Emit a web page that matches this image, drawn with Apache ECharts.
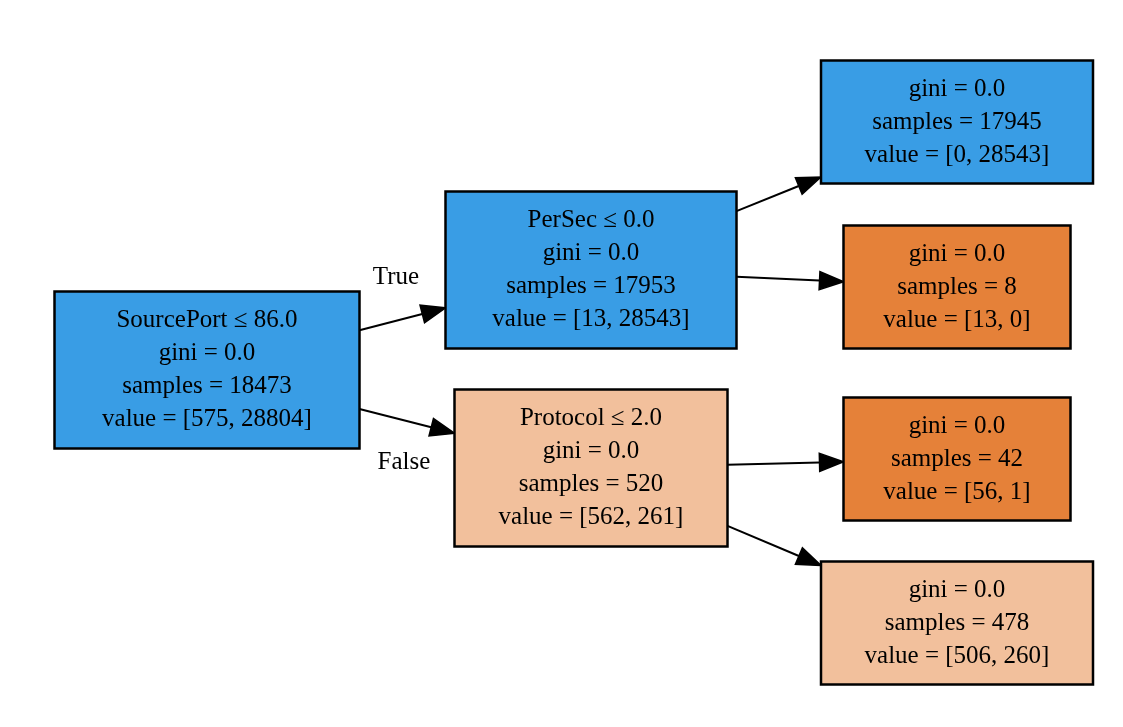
<!DOCTYPE html>
<html>
<head>
<meta charset="utf-8">
<script src="https://cdn.jsdelivr.net/npm/echarts@6/dist/echarts.min.js"></script>
<style>html,body{margin:0;padding:0;background:#fff}#chart{width:1123px;height:727px}</style>
</head>
<body>
<div id="chart"></div>
<script>
// tree content
var nodeText = [
    'SourcePort ≤ 86.0\ngini = 0.0\nsamples = 18473\nvalue = [575, 28804]',
    'PerSec ≤ 0.0\ngini = 0.0\nsamples = 17953\nvalue = [13, 28543]',
    'Protocol ≤ 2.0\ngini = 0.0\nsamples = 520\nvalue = [562, 261]',
    'gini = 0.0\nsamples = 17945\nvalue = [0, 28543]',
    'gini = 0.0\nsamples = 8\nvalue = [13, 0]',
    'gini = 0.0\nsamples = 42\nvalue = [56, 1]',
    'gini = 0.0\nsamples = 478\nvalue = [506, 260]'
];
var nodeClass = ['blue', 'blue', 'light', 'blue', 'orange', 'orange', 'light'];
var edgeFrom = [0, 0, 1, 1, 2, 2];
var edgeTo = [1, 2, 3, 4, 5, 6];
var edgeText = ['True', 'False', '', '', '', ''];

// layout (pixel units of the drawing)
var layoutX = [207, 591, 591, 957, 957, 957, 957];
var layoutY = [370, 270, 468, 122, 287, 459, 623];
var boxW = [305, 291, 273, 272, 227, 227, 272];
var boxH = [157, 157, 157, 123, 123, 123, 123];
var edgeLabelPos = [[396, 277], [404, 462]];
var colors = { blue: '#399de5', orange: '#e58139', light: '#f2c09c' };
var FONT = '25px "Liberation Serif", "DejaVu Serif", serif';

function clip(i, dx, dy, api) {
    var hw = boxW[i] / 2, hh = boxH[i] / 2;
    var t = Math.min(dx ? hw / Math.abs(dx) : Infinity, dy ? hh / Math.abs(dy) : Infinity);
    return api.coord([layoutX[i] + dx * t, layoutY[i] + dy * t]);
}

var nodeData = nodeText.map(function(t, i){ return [layoutX[i], layoutY[i], i]; });
var edgeData = edgeFrom.map(function(f, i){ return [f, edgeTo[i], i]; });

var option = {
    animation: false,
    grid: { left: 0, right: 0, top: 0, bottom: 0 },
    xAxis: { type: 'value', min: 0, max: 1123, show: false },
    yAxis: { type: 'value', min: 0, max: 727, inverse: true, show: false },
    series: [{
        type: 'custom',
        data: edgeData,
        renderItem: function(params, api){
            var f = api.value(0), t = api.value(1), k = api.value(2);
            var dx = layoutX[t] - layoutX[f], dy = layoutY[t] - layoutY[f];
            var p0 = clip(f, dx, dy, api);
            var p1 = clip(t, -dx, -dy, api);
            var len = Math.sqrt(dx * dx + dy * dy);
            var ux = dx / len, uy = dy / len;
            var al = 24, aw = 9;
            var base = [p1[0] - ux * al, p1[1] - uy * al];
            var children = [{
                type: 'line',
                shape: { x1: p0[0], y1: p0[1], x2: base[0], y2: base[1] },
                style: { stroke: '#000', lineWidth: 2 }
            }, {
                type: 'polygon',
                shape: { points: [p1, [base[0] - uy * aw, base[1] + ux * aw], [base[0] + uy * aw, base[1] - ux * aw]] },
                style: { fill: '#000', stroke: '#000', lineWidth: 1.5 }
            }];
            if (edgeText[k]) {
                var lp = api.coord(edgeLabelPos[k]);
                children.push({
                    type: 'text',
                    style: { text: edgeText[k], x: lp[0], y: lp[1], align: 'center', verticalAlign: 'middle', font: FONT, fill: '#000' }
                });
            }
            return { type: 'group', children: children };
        }
    }, {
        type: 'custom',
        data: nodeData,
        renderItem: function(params, api){
            var i = api.value(2);
            var c = api.coord([api.value(0), api.value(1)]);
            return {
                type: 'group',
                children: [{
                    type: 'rect',
                    shape: { x: c[0] - boxW[i] / 2, y: c[1] - boxH[i] / 2, width: boxW[i], height: boxH[i] },
                    style: { fill: colors[nodeClass[i]], stroke: '#000', lineWidth: 2.5 }
                }, {
                    type: 'text',
                    style: { text: nodeText[i], x: c[0], y: c[1], align: 'center', verticalAlign: 'middle', font: FONT, lineHeight: 33, fill: '#000' }
                }]
            };
        }
    }]
};

var myChart = echarts.init(document.getElementById('chart'));
myChart.setOption(option);
</script>
</body>
</html>
